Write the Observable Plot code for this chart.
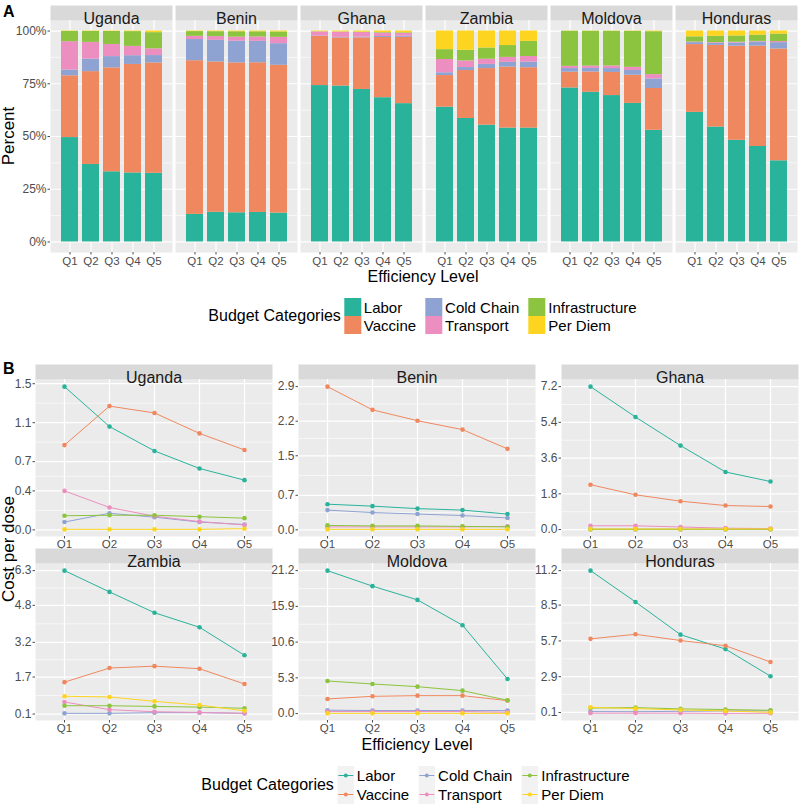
<!DOCTYPE html>
<html><head><meta charset="utf-8">
<script src="https://cdn.jsdelivr.net/npm/d3@7"></script>
<script src="https://cdn.jsdelivr.net/npm/@observablehq/plot@0.6"></script>
<style>
body{margin:0;background:#fff;}
#root{position:relative;width:800px;height:809px;font-family:"Liberation Sans",Arial,Helvetica,sans-serif;color:#000;overflow:hidden;background:#fff}
.abs{position:absolute}
.ttl{position:absolute;font-size:16px;white-space:nowrap;transform:translate(-50%,-50%);color:#000}
.tag{position:absolute;font-size:16px;font-weight:bold;white-space:nowrap}
.rot{position:absolute;font-size:17px;white-space:nowrap;transform:translate(-50%,-50%) rotate(-90deg)}
.legend{position:absolute;display:grid;align-items:center;font-size:15px;transform:translateX(-50%);color:#000}
.legend .lt{padding-right:3px;white-space:nowrap;font-size:16px}
.legend .lab{padding-left:3px;padding-right:9px;white-space:nowrap}
</style>
</head><body><div id="root"></div>
<script>
// ---- data ----
const countries = ["Uganda", "Benin", "Ghana", "Zambia", "Moldova", "Honduras"];
const levels = ["Q1", "Q2", "Q3", "Q4", "Q5"];
const categories = ["Labor", "Vaccine", "Cold Chain", "Transport", "Infrastructure", "Per Diem"];
const palette = ["#2ab39b", "#f0885f", "#8fa3d2", "#ec8fc0", "#8cc43f", "#fdd520"];

// cost per dose, 5 levels per country, countries in order above
const laborCost = [
  1.47, 1.06, 0.81, 0.63, 0.51,
  0.52, 0.48, 0.43, 0.40, 0.32,
  7.20, 5.67, 4.23, 2.90, 2.42,
  6.30, 5.38, 4.48, 3.85, 2.64,
  21.2, 18.9, 16.86, 13.1, 5.13,
  11.2, 8.75, 6.19, 5.06, 2.94
];
const vaccineCost = [
  0.87, 1.27, 1.20, 0.99, 0.82,
  2.90, 2.43, 2.21, 2.03, 1.64,
  2.26, 1.75, 1.43, 1.21, 1.16,
  1.48, 2.09, 2.17, 2.06, 1.40,
  2.17, 2.56, 2.66, 2.66, 1.92,
  5.86, 6.22, 5.73, 5.32, 4.05
];
const coldChainCost = [
  0.08, 0.17, 0.13, 0.08, 0.055,
  0.40, 0.35, 0.32, 0.29, 0.24,
  0.02, 0.02, 0.02, 0.02, 0.02,
  0.13, 0.13, 0.16, 0.16, 0.13,
  0.50, 0.45, 0.45, 0.45, 0.44,
  0.17, 0.16, 0.19, 0.22, 0.23
];
const transportCost = [
  0.40, 0.23, 0.14, 0.085, 0.05,
  0.06, 0.06, 0.06, 0.06, 0.07,
  0.19, 0.19, 0.13, 0.07, 0.05,
  0.62, 0.29, 0.20, 0.17, 0.13,
  0.30, 0.30, 0.30, 0.30, 0.20,
  0.05, 0.05, 0.05, 0.03, 0.04
];
const infrastructureCost = [
  0.145, 0.15, 0.15, 0.135, 0.12,
  0.09, 0.08, 0.08, 0.07, 0.06,
  0.01, 0.01, 0.01, 0.01, 0.01,
  0.46, 0.46, 0.43, 0.40, 0.35,
  4.83, 4.39, 3.99, 3.40, 1.97,
  0.45, 0.48, 0.38, 0.33, 0.27
];
const perDiemCost = [
  0.005, 0.005, 0.005, 0.005, 0.012,
  0.01, 0.01, 0.01, 0.01, 0.01,
  0.03, 0.03, 0.03, 0.03, 0.03,
  0.87, 0.84, 0.65, 0.49, 0.24,
  0.03, 0.03, 0.03, 0.03, 0.03,
  0.50, 0.40, 0.30, 0.22, 0.11
];
const percentTicks = [0, 0.25, 0.5, 0.75, 1];
const costTicks = [
  [0, 0.4, 0.7, 1.1, 1.5],
  [0, 0.7, 1.5, 2.2, 2.9],
  [0, 1.8, 3.6, 5.4, 7.2],
  [0.1, 1.7, 3.2, 4.8, 6.3],
  [0, 5.3, 10.6, 15.9, 21.2],
  [0.1, 2.9, 5.7, 8.5, 11.2]
];

// ---- build table ----
const seriesList = [laborCost, vaccineCost, coldChainCost, transportCost, infrastructureCost, perDiemCost];
const rows = [];
categories.forEach((category, k) =>
  countries.forEach((country, i) =>
    levels.forEach((level, j) =>
      rows.push({country, level, category, value: seriesList[k][i * 5 + j]}))));

const root = document.getElementById("root");
const fontFamily = '"Liberation Sans", Arial, Helvetica, sans-serif';
const baseStyle = {fontFamily, fontSize: "12px", color: "#4d4d4d", background: "none", maxWidth: "none", overflow: "visible"};
const white = {stroke: "#fff", strokeOpacity: 1};
function place(el, left, top, w, h) {
  const d = document.createElement("div");
  d.className = "abs";
  d.style.left = left + "px"; d.style.top = top + "px";
  d.style.width = w + "px"; d.style.height = h + "px";
  d.appendChild(el); root.appendChild(d);
}
function addText(cls, text, x, y) {
  const d = document.createElement("div");
  d.className = cls; d.textContent = text;
  d.style.left = x + "px"; d.style.top = y + "px";
  root.appendChild(d);
}

// ---- Panel A ----
const aH = 268, aTop = 20, aBottom = 16;
const percentMinor = d3.pairs(percentTicks, (a, b) => (a + b) / 2);
const plotA = Plot.plot({
  width: 800, height: aH,
  marginLeft: 49, marginRight: 2, marginTop: aTop, marginBottom: aBottom,
  style: baseStyle,
  fx: {domain: countries, paddingInner: 0.024, paddingOuter: 0, axis: null, label: null},
  x: {domain: levels, paddingInner: 0.2, paddingOuter: 0.375, label: null},
  y: {domain: [-0.05, 1.05], label: null},
  color: {domain: categories, range: palette},
  marks: [
    Plot.frame({fill: "#ebebeb"}),
    Plot.frame({fill: "#d9d9d9", insetTop: -15, insetBottom: aH - aTop - aBottom}),
    Plot.gridY(percentMinor, {...white, strokeWidth: 0.6}),
    Plot.gridY(percentTicks, {...white, strokeWidth: 1.2}),
    Plot.gridX({...white, strokeWidth: 1.2}),
    Plot.barY(rows, {fx: "country", x: "level", y: "value", fill: "category", order: categories, offset: "normalize"}),
    Plot.text(countries, {fx: d => d, text: d => d, frameAnchor: "top", dy: -7.5, fill: "#1a1a1a", fontSize: 16}),
    Plot.axisX({tickSize: 2.5, tickPadding: 2, fontSize: 11.5, label: null}),
    Plot.axisY(percentTicks, {tickSize: 2.5, tickPadding: 1.5, fontSize: 12, tickFormat: d3.format(".0%"), label: null})
  ]
});
place(plotA, 0, 0, 800, aH);

// ---- Panel B ----
const bML = 35, bW = 237, bMT = 15, bH = 157, bMB = 18;
const colLeft = [35, 298, 561], rowTop = [364, 548];
function costPlot(ci) {
  const country = countries[ci];
  const data = rows.filter(d => d.country === country);
  const [lo, hi] = d3.extent(data, d => d.value);
  const pad = 0.05 * (hi - lo);
  const ticks = costTicks[ci];
  const minor = d3.pairs(ticks, (a, b) => (a + b) / 2);
  return Plot.plot({
    width: bML + bW, height: bMT + bH + bMB,
    marginLeft: bML, marginRight: 0, marginTop: bMT, marginBottom: bMB,
    style: baseStyle,
    x: {domain: levels, type: "point", padding: 0.6, label: null},
    y: {domain: [lo - pad, hi + pad], label: null},
    color: {domain: categories, range: palette},
    marks: [
      Plot.frame({fill: "#ebebeb"}),
      Plot.frame({fill: "#d9d9d9", insetTop: -15, insetBottom: bH}),
      Plot.gridY(minor, {...white, strokeWidth: 0.6}),
      Plot.gridY(ticks, {...white, strokeWidth: 1.2}),
      Plot.gridX({...white, strokeWidth: 1.2}),
      Plot.lineY(data, {x: "level", y: "value", stroke: "category", strokeWidth: 1}),
      Plot.dot(data, {x: "level", y: "value", fill: "category", r: 2.3}),
      Plot.text([country], {text: d => d, frameAnchor: "top", dy: -7.5, fill: "#1a1a1a", fontSize: 16}),
      Plot.axisX({tickSize: 2.5, tickPadding: 1, fontSize: 11.5, label: null}),
      Plot.axisY(ticks, {tickSize: 2.5, tickPadding: 1.5, fontSize: 12, tickFormat: d3.format(".1f"), label: null})
    ]
  });
}
countries.forEach((c, ci) => {
  const col = ci % 3, row = Math.floor(ci / 3);
  place(costPlot(ci), colLeft[col] - bML, rowTop[row], bML + bW, bMT + bH + bMB);
});

// ---- titles ----
addText("tag", "A", 3, 3);
addText("tag", "B", 3, 360);
addText("rot", "Percent", 9, 136);
addText("rot", "Cost per dose", 9, 549);
addText("ttl", "Efficiency Level", 423, 277);
addText("ttl", "Efficiency Level", 417, 745);

// ---- legends ----
function legend(cx, top, rowH, kind) {
  const g = document.createElement("div");
  g.className = "legend";
  g.style.left = cx + "px"; g.style.top = top + "px";
  g.style.gridTemplateColumns = "auto 17px auto 17px auto 17px auto";
  g.style.gridTemplateRows = rowH + "px " + rowH + "px";
  const t = document.createElement("div");
  t.className = "lt"; t.textContent = "Budget Categories";
  t.style.gridColumn = "1"; t.style.gridRow = "1 / span 2";
  g.appendChild(t);
  categories.forEach((c, i) => {
    const col = Math.floor(i / 2), row = i % 2;
    const k = document.createElement("div");
    k.style.gridColumn = String(2 + col * 2); k.style.gridRow = String(row + 1);
    k.style.width = "17px"; k.style.height = rowH + "px";
    if (kind === "bar") {
      k.style.background = palette[i];
    } else {
      k.innerHTML = `<svg width="17" height="${rowH}"><rect x="0" y="0" width="17" height="${rowH}" fill="#f2f2f2"/><line x1="1" x2="16" y1="${rowH/2}" y2="${rowH/2}" stroke="${palette[i]}" stroke-width="1"/><circle cx="8.5" cy="${rowH/2}" r="2" fill="${palette[i]}"/></svg>`;
    }
    const l = document.createElement("div");
    l.className = "lab"; l.textContent = c;
    l.style.gridColumn = String(3 + col * 2); l.style.gridRow = String(row + 1);
    g.appendChild(k); g.appendChild(l);
  });
  root.appendChild(g);
}
legend(427, 298, 18, "bar");
legend(420, 766, 19, "line");
</script>
</body></html>
